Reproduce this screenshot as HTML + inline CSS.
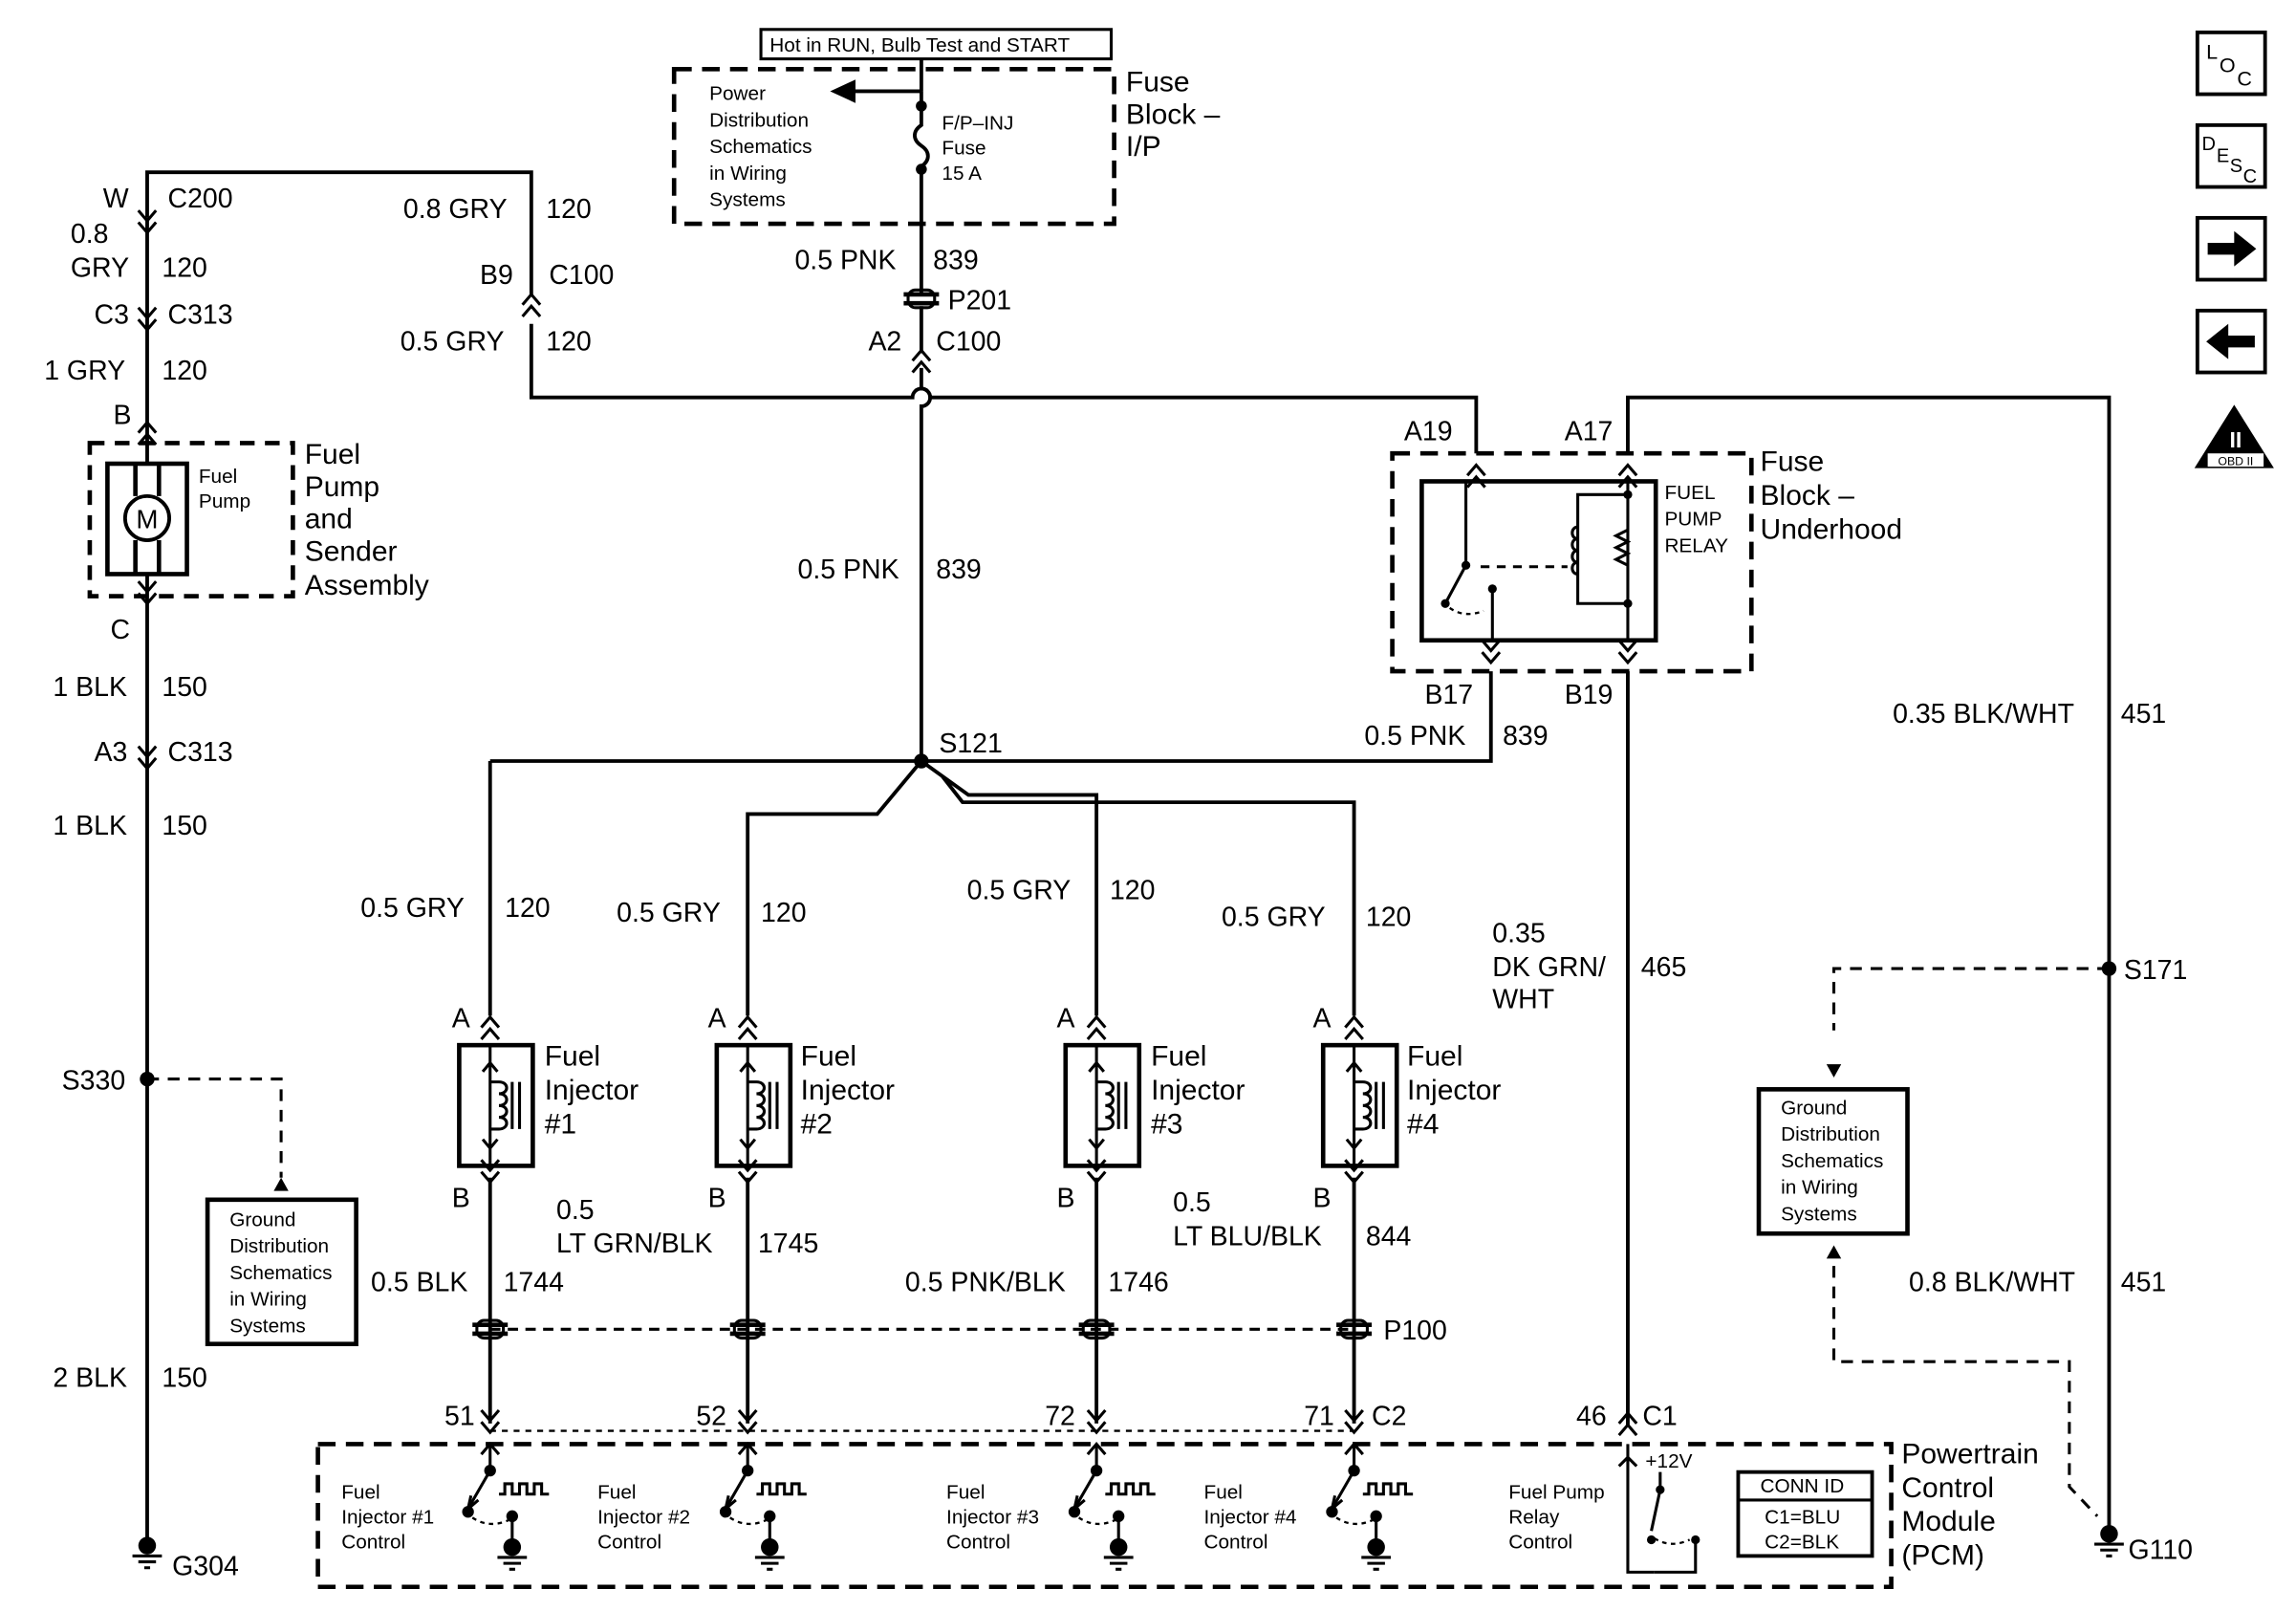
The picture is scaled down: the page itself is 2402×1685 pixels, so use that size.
<!DOCTYPE html>
<html><head><meta charset="utf-8"><style>
html,body{margin:0;padding:0;background:#fff}
svg{display:block}
text{font-family:"Liberation Sans",Arial,sans-serif;fill:#000}
.l{font-size:18.5px}
.s{font-size:13.5px}
.m{font-size:19.5px}
</style></head><body>
<svg width="2402" height="1685" viewBox="0 0 1560 1094.4" preserveAspectRatio="none" xmlns="http://www.w3.org/2000/svg">
<defs>
<g id="cu"><path d="M-6 7 L0 0 L6 7 M-6 15 L0 8 L6 15" fill="none" stroke="#000" stroke-width="2"/></g>
<g id="cd"><path d="M-6 -7 L0 0 L6 -7 M-6 1 L0 8 L6 1" fill="none" stroke="#000" stroke-width="2"/></g>
<g id="pc"><path d="M-12 -3 H12 M-12 3 H12" stroke="#000" stroke-width="3"/><rect x="-9" y="-6" width="18" height="12" rx="5" fill="none" stroke="#000" stroke-width="2"/></g>
<g id="gnd"><circle cx="0" cy="0" r="6"/><path d="M-10 7 H10 M-6 11 H6 M-2 15 H2" stroke="#000" stroke-width="2"/></g>
<g id="sw" fill="none" stroke="#000" stroke-width="2">
<path d="M0 0 V18 L-15 44"/><path d="M-15 44 l2 -9 M-15 44 l7 -6"/>
<circle cx="0" cy="18" r="3" fill="#000"/><circle cx="-15" cy="46" r="3" fill="#000"/><circle cx="15" cy="49" r="3" fill="#000"/>
<path d="M-12 50 Q0 58 14 51" stroke-dasharray="3 3" stroke-width="1.5"/>
<path d="M15 49 V66"/><path d="M6 34 h4 v-7 h5 v7 h5 v-7 h5 v7 h5 v-7 h5 v7 h5"/>
<path d="M-6 7 L0 0 L6 7"/>
</g>
<g id="sw2"><use href="#sw"/><use href="#gnd" x="15" y="70"/></g>
<g id="inj" fill="none" stroke="#000" stroke-width="2">
<rect x="-21" y="0" width="50" height="82" stroke-width="3"/>
<path d="M0 0 V82 M0 12 l-5 6 M0 12 l5 6 M0 70 l-5 -6 M0 70 l5 -6"/>
<path d="M0 25 h6 M0 57 h6 M6 25 c7 0 7 8 0 8 c7 0 7 8 0 8 c7 0 7 8 0 8 c7 0 7 8 0 8"/>
<path d="M15 25 V57 M20 25 V57"/>
</g>
</defs>
<g fill="none" stroke="#000" stroke-width="2.5">
<rect x="517" y="20" width="238" height="20" stroke-width="2"/>
<path d="M626 40 V62"/>
<rect x="458" y="47" width="299" height="105" stroke-dasharray="12 7" stroke-width="3"/>
<path d="M626 62 H570"/><path d="M580 56 L567 62 L580 68 Z" fill="#000"/>
<path d="M626 62 V85 c-6 4 -6 10 0 14 c6 4 6 10 0 14 V117 V200"/>
<circle cx="626" cy="72" r="2.5" fill="#000"/><circle cx="626" cy="115" r="2.5" fill="#000"/>
<path d="M626 208 V240 M626 250 V264 A6 6 0 0 1 626 276 V517" stroke-width="2.5"/>
<path d="M361 220 V270 H620 A6 6 0 0 1 632 270 H1003 V308"/>
<path d="M100 148 V117 H361 V200"/>
<path d="M100 148 V290 M100 410 V1045"/>
<rect x="61" y="301" width="138" height="104" stroke-dasharray="10 7" stroke-width="3"/>
<rect x="73" y="315" width="54" height="75" stroke-width="3"/>
<circle cx="100" cy="352" r="15"/>
<path d="M92 315 V337 M108 315 V337 M92 367 V390 M108 367 V390" stroke-width="3"/>
<path d="M100 290 V315 M100 390 V410"/>
<path d="M100 733 H191 V800" stroke-dasharray="8 6" stroke-width="2"/>
<rect x="141" y="815" width="101" height="98" stroke-width="3"/>
<path d="M1106 308 V270 H1433 V1040"/>
<rect x="946" y="308" width="244" height="148" stroke-dasharray="12 7" stroke-width="3"/>
<rect x="966" y="327" width="159" height="108" stroke-width="3"/>
<path d="M996 327 V384 L982 410" stroke-width="2"/>
<path d="M1014 400 V435 M1106 327 V435 M1106 336 H1072 V410 H1106" stroke-width="2"/>
<path d="M1006 385 H1065" stroke-dasharray="6 5" stroke-width="2"/>
<path d="M1072 358 c-5 0 -5 8 0 8 c-5 0 -5 8 0 8 c-5 0 -5 8 0 8 c-5 0 -5 8 0 8" stroke-width="2"/>
<path d="M1106 360 l-8 4 l8 4 l-8 4 l8 4 l-8 4 l8 4" stroke-width="2"/>
<path d="M985 413 Q995 420 1008 415" stroke-dasharray="3 3" stroke-width="1.5"/>
<path d="M1013 456 V517 H626 M1106 456 V968"/>
<path d="M1433 658 H1246 V700" stroke-dasharray="8 6" stroke-width="2"/>
<rect x="1195" y="740" width="101" height="98" stroke-width="3"/>
<path d="M1246 860 V925 H1406 V1010 L1425 1030" stroke-dasharray="8 6" stroke-width="2"/>
<path d="M333 517 H626 M626 517 L596 553 H508 V690 M626 517 L658 540 H745 V690 M640 527 L654 545 H920 V690 M333 517 V690"/>
<path d="M333 800 V967 M508 800 V967 M745 800 V967 M920 800 V967"/>
<path d="M333 903 H920" stroke-dasharray="7 5" stroke-width="2"/>
<rect x="216" y="981" width="1069" height="97" stroke-dasharray="12 7" stroke-width="3"/>
<path d="M333 972 H920" stroke-dasharray="4 4" stroke-width="1.5"/>
<rect x="1181" y="1000" width="91" height="57" stroke-width="2.5"/>
<path d="M1181 1019 H1272" stroke-width="2"/>
<path d="M1106 981 V1068 H1124 M1106 990 l-6 6 M1106 990 l6 6" stroke-width="2"/>
<path d="M1128 1000 V1012 L1122 1040" stroke-width="2"/>
<path d="M1124 1045 Q1135 1052 1148 1046" stroke-dasharray="3 3" stroke-width="1.5"/>
<path d="M1152 1046 V1068 H1124" stroke-width="2"/>
<rect x="1493" y="22" width="46" height="42"/><rect x="1493" y="85" width="46" height="42"/>
<rect x="1493" y="148" width="46" height="42"/><rect x="1493" y="211" width="46" height="42"/>
</g>
<text x="100" y="359" text-anchor="middle" style="font-size:18px">M</text>
<path d="M1500 165 H1518 V157 L1533 169 L1518 181 V173 H1500 Z"/>
<path d="M1532 228 H1514 V220 L1499 232 L1514 244 V236 H1532 Z"/>
<path d="M1518 275 L1545 318 H1491 Z"/>
<rect x="1500" y="308" width="38" height="9" fill="#fff"/>
<text x="1519" y="316" text-anchor="middle" style="font-size:8px">OBD II</text>
<text x="1519" y="304" text-anchor="middle" style="font-size:15px;font-weight:bold;fill:#fff">II</text>
<g fill="#000">
<circle cx="626" cy="517" r="5"/><circle cx="100" cy="733" r="5"/><circle cx="1433" cy="658" r="5"/>
<circle cx="996" cy="384" r="3"/><circle cx="982" cy="410" r="3"/><circle cx="1014" cy="400" r="3"/>
<circle cx="1106" cy="336" r="3"/><circle cx="1106" cy="410" r="3"/>
<circle cx="1128" cy="1012" r="3"/><circle cx="1122" cy="1046" r="3"/><circle cx="1152" cy="1046" r="3"/>
<path d="M191 800 l-5 9 h10 Z"/><path d="M1246 732 l-5 -9 h10 Z"/><path d="M1246 846 l-5 9 h10 Z"/>
</g>
<use href="#gnd" x="100" y="1050"/><use href="#gnd" x="1433" y="1042"/>
<use href="#pc" x="626" y="203"/>
<use href="#pc" x="333" y="903"/><use href="#pc" x="508" y="903"/><use href="#pc" x="745" y="903"/><use href="#pc" x="920" y="903"/>
<use href="#cu" x="361" y="200"/><use href="#cu" x="626" y="238"/><use href="#cd" x="100" y="150"/>
<use href="#cd" x="100" y="216"/><use href="#cu" x="100" y="287"/><use href="#cd" x="100" y="402"/>
<use href="#cd" x="100" y="514"/><use href="#cu" x="1003" y="316"/><use href="#cu" x="1106" y="316"/>
<use href="#cd" x="1013" y="442"/><use href="#cd" x="1106" y="442"/><use href="#cu" x="1106" y="960"/>
<use href="#cu" x="333" y="691"/><use href="#cu" x="508" y="691"/><use href="#cu" x="745" y="691"/><use href="#cu" x="920" y="691"/>
<use href="#cd" x="333" y="795"/><use href="#cd" x="508" y="795"/><use href="#cd" x="745" y="795"/><use href="#cd" x="920" y="795"/>
<use href="#cd" x="333" y="965"/><use href="#cd" x="508" y="965"/><use href="#cd" x="745" y="965"/><use href="#cd" x="920" y="965"/>
<use href="#inj" x="333" y="710"/><use href="#inj" x="508" y="710"/><use href="#inj" x="745" y="710"/><use href="#inj" x="920" y="710"/>
<use href="#sw2" x="333" y="981"/><use href="#sw2" x="508" y="981"/><use href="#sw2" x="745" y="981"/><use href="#sw2" x="920" y="981"/>
<text class="s" x="523" y="35">Hot in RUN, Bulb Test and START</text>
<text class="s" x="482" y="68">Power</text><text class="s" x="482" y="86">Distribution</text><text class="s" x="482" y="104">Schematics</text><text class="s" x="482" y="122">in Wiring</text><text class="s" x="482" y="140">Systems</text>
<text class="s" x="640" y="88">F/P–INJ</text><text class="s" x="640" y="105">Fuse</text><text class="s" x="640" y="122">15 A</text>
<text class="m" x="765" y="62">Fuse</text><text class="m" x="765" y="84">Block –</text><text class="m" x="765" y="106">I/P</text>
<text class="l" x="540" y="183">0.5 PNK</text><text class="l" x="634" y="183">839</text>
<text class="l" x="644" y="210">P201</text><text class="l" x="590" y="238">A2</text><text class="l" x="636" y="238">C100</text>
<text class="l" x="70" y="141">W</text><text class="l" x="114" y="141">C200</text>
<text class="l" x="48" y="165">0.8</text><text class="l" x="48" y="188">GRY</text><text class="l" x="110" y="188">120</text>
<text class="l" x="64" y="220">C3</text><text class="l" x="114" y="220">C313</text>
<text class="l" x="30" y="258">1 GRY</text><text class="l" x="110" y="258">120</text>
<text class="l" x="77" y="288">B</text>
<text class="l" x="274" y="148">0.8 GRY</text><text class="l" x="371" y="148">120</text>
<text class="l" x="326" y="193">B9</text><text class="l" x="373" y="193">C100</text>
<text class="l" x="272" y="238">0.5 GRY</text><text class="l" x="371" y="238">120</text>
<text class="s" x="135" y="328">Fuel</text><text class="s" x="135" y="345">Pump</text>
<text class="m" x="207" y="315">Fuel</text><text class="m" x="207" y="337">Pump</text><text class="m" x="207" y="359">and</text><text class="m" x="207" y="381">Sender</text><text class="m" x="207" y="404">Assembly</text>
<text class="l" x="75" y="434">C</text>
<text class="l" x="36" y="473">1 BLK</text><text class="l" x="110" y="473">150</text>
<text class="l" x="64" y="517">A3</text><text class="l" x="114" y="517">C313</text>
<text class="l" x="36" y="567">1 BLK</text><text class="l" x="110" y="567">150</text>
<text class="l" x="42" y="740">S330</text>
<text class="s" x="156" y="833">Ground</text><text class="s" x="156" y="851">Distribution</text><text class="s" x="156" y="869">Schematics</text><text class="s" x="156" y="887">in Wiring</text><text class="s" x="156" y="905">Systems</text>
<text class="l" x="36" y="942">2 BLK</text><text class="l" x="110" y="942">150</text>
<text class="l" x="117" y="1070">G304</text>
<text class="l" x="542" y="393">0.5 PNK</text><text class="l" x="636" y="393">839</text>
<text class="l" x="638" y="511">S121</text>
<text class="l" x="927" y="506">0.5 PNK</text><text class="l" x="1021" y="506">839</text>
<text class="l" x="954" y="299">A19</text><text class="l" x="1063" y="299">A17</text>
<text class="s" x="1131" y="339">FUEL</text><text class="s" x="1131" y="357">PUMP</text><text class="s" x="1131" y="375">RELAY</text>
<text class="m" x="1196" y="320">Fuse</text><text class="m" x="1196" y="343">Block –</text><text class="m" x="1196" y="366">Underhood</text>
<text class="l" x="968" y="478">B17</text><text class="l" x="1063" y="478">B19</text>
<text class="l" x="1286" y="491">0.35 BLK/WHT</text><text class="l" x="1441" y="491">451</text>
<text class="l" x="1014" y="640">0.35</text><text class="l" x="1014" y="663">DK GRN/</text><text class="l" x="1014" y="685">WHT</text><text class="l" x="1115" y="663">465</text>
<text class="l" x="1443" y="665">S171</text>
<text class="s" x="1210" y="757">Ground</text><text class="s" x="1210" y="775">Distribution</text><text class="s" x="1210" y="793">Schematics</text><text class="s" x="1210" y="811">in Wiring</text><text class="s" x="1210" y="829">Systems</text>
<text class="l" x="1297" y="877">0.8 BLK/WHT</text><text class="l" x="1441" y="877">451</text>
<text class="l" x="1446" y="1059">G110</text>
<text class="l" x="245" y="623">0.5 GRY</text><text class="l" x="343" y="623">120</text>
<text class="l" x="419" y="626">0.5 GRY</text><text class="l" x="517" y="626">120</text>
<text class="l" x="657" y="611">0.5 GRY</text><text class="l" x="754" y="611">120</text>
<text class="l" x="830" y="629">0.5 GRY</text><text class="l" x="928" y="629">120</text>
<text class="l" x="307" y="698">A</text><text class="l" x="481" y="698">A</text><text class="l" x="718" y="698">A</text><text class="l" x="892" y="698">A</text>
<g class="m">
<text x="370" y="724">Fuel</text><text x="370" y="747">Injector</text><text x="370" y="770">#1</text>
<text x="544" y="724">Fuel</text><text x="544" y="747">Injector</text><text x="544" y="770">#2</text>
<text x="782" y="724">Fuel</text><text x="782" y="747">Injector</text><text x="782" y="770">#3</text>
<text x="956" y="724">Fuel</text><text x="956" y="747">Injector</text><text x="956" y="770">#4</text>
</g>
<text class="l" x="307" y="820">B</text><text class="l" x="481" y="820">B</text><text class="l" x="718" y="820">B</text><text class="l" x="892" y="820">B</text>
<text class="l" x="378" y="828">0.5</text><text class="l" x="378" y="851">LT GRN/BLK</text><text class="l" x="515" y="851">1745</text>
<text class="l" x="797" y="823">0.5</text><text class="l" x="797" y="846">LT BLU/BLK</text><text class="l" x="928" y="846">844</text>
<text class="l" x="252" y="877">0.5 BLK</text><text class="l" x="342" y="877">1744</text>
<text class="l" x="615" y="877">0.5 PNK/BLK</text><text class="l" x="753" y="877">1746</text>
<text class="l" x="940" y="910">P100</text>
<text class="l" x="302" y="968">51</text><text class="l" x="473" y="968">52</text><text class="l" x="710" y="968">72</text><text class="l" x="886" y="968">71</text><text class="l" x="932" y="968">C2</text>
<text class="l" x="1071" y="968">46</text><text class="l" x="1116" y="968">C1</text>
<text class="s" x="1118" y="997">+12V</text>
<g class="s">
<text x="232" y="1018">Fuel</text><text x="232" y="1035">Injector #1</text><text x="232" y="1052">Control</text>
<text x="406" y="1018">Fuel</text><text x="406" y="1035">Injector #2</text><text x="406" y="1052">Control</text>
<text x="643" y="1018">Fuel</text><text x="643" y="1035">Injector #3</text><text x="643" y="1052">Control</text>
<text x="818" y="1018">Fuel</text><text x="818" y="1035">Injector #4</text><text x="818" y="1052">Control</text>
<text x="1025" y="1018">Fuel Pump</text><text x="1025" y="1035">Relay</text><text x="1025" y="1052">Control</text>
<text x="1196" y="1014">CONN ID</text><text x="1199" y="1035">C1=BLU</text><text x="1199" y="1052">C2=BLK</text>
</g>
<text class="m" x="1292" y="994">Powertrain</text><text class="m" x="1292" y="1017">Control</text><text class="m" x="1292" y="1040">Module</text><text class="m" x="1292" y="1063">(PCM)</text>
<text x="1499" y="40" style="font-size:14px">L</text><text x="1508" y="49" style="font-size:14px">O</text><text x="1520" y="58" style="font-size:14px">C</text>
<text x="1496" y="102" style="font-size:13px">D</text><text x="1506" y="110" style="font-size:13px">E</text><text x="1515" y="117" style="font-size:13px">S</text><text x="1524" y="124" style="font-size:13px">C</text>
</svg>
</body></html>
